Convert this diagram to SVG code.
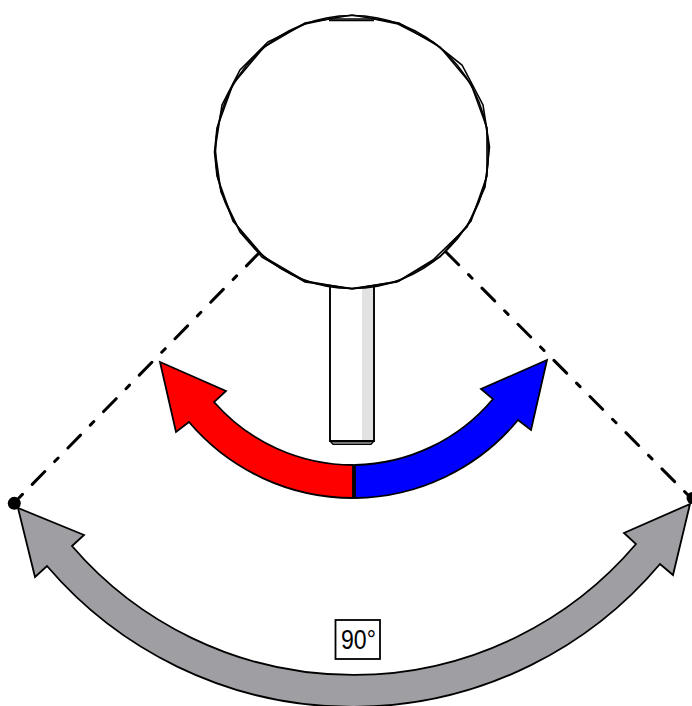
<svg xmlns="http://www.w3.org/2000/svg" width="692" height="706" viewBox="0 0 692 706">
<style>
.dash{fill:none;stroke:#000;stroke-width:3;stroke-linecap:round;stroke-dasharray:18 14 5 14}
.arrow{stroke:#000;stroke-width:1.800;stroke-linejoin:miter}
.outline{fill:none;stroke:#000;stroke-width:1.600}
</style>
<rect width="692" height="706" fill="#fff"/>
<g id="connectors">
<path class="dash" d="M259 253L14 503"/>
<path class="dash" d="M446 252L690 497"/>
</g>
<g id="pivot-left"><circle cx="14.300" cy="503.300" r="6.500" fill="#000"/></g>
<g id="pivot-right"><circle cx="692.500" cy="498" r="6" fill="#000"/></g>
<g id="stick">
<rect x="330" y="285" width="44" height="156" fill="#fff"/>
<rect x="362" y="285" width="11.500" height="156" fill="#e2e2e2"/>
<path d="M330 441L333 444.500H371L374 441Z" fill="#777" stroke="#000" stroke-width="1.200"/>
<path d="M330 285V441H374V285" fill="none" stroke="#000" stroke-width="1.900"/>
</g>
<g id="ball">
<circle cx="352" cy="152" r="136.500" fill="#fff" stroke="#000" stroke-width="1.600"/>
<path class="outline" d="M352 288.500L397 282L433 260L467 227L485 187L489.500 147L483 105L462 65L433 42L398 24L374 19H329L305 24L268 42L240 70L222 105L215 150L221 192L240 232L262 257L305 282Z"/>
<path class="outline" d="M352 289L399 281L440 257L471 221L487 176L487 128L471 84L440 47L399 23L352 15L305 23L264 47L233 84L217 128L214.500 152L217 176L233 221L264 257L305 281Z"/>
<path class="outline" d="M329 20.500H374"/>
</g>
<g id="arrow-red">
<path class="arrow" fill="#f00" d="M353 465A185 185 0 0 1 214 402L226 391L160 362L176 432L189 422A215 215 0 0 0 353 498Z"/>
</g>
<g id="arrow-blue">
<path class="arrow" fill="#00f" d="M355 465A185 185 0 0 0 493 399L481 389L547 360L531 430L518 420A215 215 0 0 1 355 498Z"/>
</g>
<path d="M354 465V498" stroke="#000" stroke-width="2.200"/>
<g id="arrow-gray">
<path class="arrow" fill="#9f9fa3" d="M72 546L84 535L18 508L35 577L47 566A402 402 0 0 0 660 564L673 575L690 504L624 533L636 544A371 371 0 0 1 72 546Z"/>
</g>
<g id="label-90">
<rect x="335.500" y="620" width="44.500" height="39" fill="#fff" stroke="#000" stroke-width="1.800"/>
<text transform="translate(341 649) scale(.84 1)" font-family="'Liberation Sans',Arial,sans-serif" font-size="27.500" fill="#000">90°</text>
</g>
</svg>
